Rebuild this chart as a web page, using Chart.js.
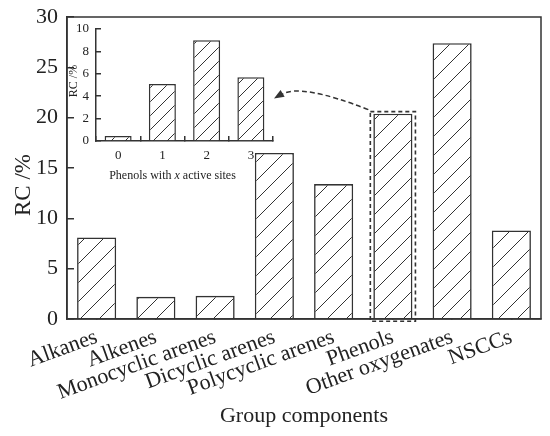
<!DOCTYPE html>
<html lang="en">
<head>
  <meta charset="UTF-8">
  <title>RC of group components</title>
  <script src="https://cdn.jsdelivr.net/npm/chart.js"></script>
  <style>
    html, body { margin: 0; padding: 0; background: #fff; }
    .wrap { position: relative; width: 550px; height: 436px; }
    .wrap canvas { position: absolute; left: 0; top: 0; }
    #insetChart { pointer-events: none; }
  </style>
</head>
<body>
  <div class="wrap">
    <canvas id="mainChart" width="550" height="436"></canvas>
    <canvas id="insetChart" width="550" height="436"></canvas>
  </div>

  <script>
    // main chart data
    const groups = ['Alkanes', 'Alkenes', 'Monocyclic arenes', 'Dicyclic arenes',
                    'Polycyclic arenes', 'Phenols', 'Other oxygenates', 'NSCCs'];
    const rcValues = [8.1, 2.2, 2.3, 16.5, 13.4, 20.4, 27.4, 8.8];
    const rcTicks = [0, 5, 10, 15, 20, 25, 30];

    // inset data
    const sites = ['0', '1', '2', '3'];
    const phenolRc = [0.45, 5.1, 9.0, 5.7];
    const siteTicks = [0, 2, 4, 6, 8, 10];

    const INK = '#333';
    const TEXT = '#222';
    const SERIF = '"Liberation Serif", "DejaVu Serif", serif';

    // diagonal hatch fill
    function hatch(size, lw) {
      const c = document.createElement('canvas');
      c.width = c.height = size;
      const g = c.getContext('2d');
      g.fillStyle = '#fff';
      g.fillRect(0, 0, size, size);
      g.strokeStyle = INK;
      g.lineWidth = lw;
      g.beginPath();
      g.moveTo(-1, size + 1); g.lineTo(size + 1, -1);
      g.moveTo(-2, 2); g.lineTo(2, -2);
      g.moveTo(size - 2, size + 2); g.lineTo(size + 2, size - 2);
      g.stroke();
      return g.createPattern(c, 'repeat');
    }

    // fixed axis box, no extra label padding pushed into the layout
    function fixWidth(w) {
      return s => { s.width = w; s.paddingTop = 0; s.paddingBottom = 0; };
    }

    // ---------- inset ----------
    const insetText = {
      id: 'insetText',
      afterDraw(chart) {
        const ctx = chart.ctx;
        const a = chart.chartArea;
        ctx.save();
        ctx.fillStyle = TEXT;
        ctx.textBaseline = 'middle';
        // y title
        ctx.font = '12px ' + SERIF;
        ctx.textAlign = 'center';
        ctx.translate(a.left - 22, (a.top + a.bottom) / 2 - 4);
        ctx.rotate(-Math.PI / 2);
        ctx.fillText('RC /%', 0, 0);
        ctx.restore();

        // x title with italic x
        ctx.save();
        ctx.fillStyle = TEXT;
        ctx.textBaseline = 'middle';
        const parts = [['Phenols with ', ''], ['x', 'italic '], [' active sites', '']];
        let total = 0;
        parts.forEach(p => { ctx.font = p[1] + '12px ' + SERIF; total += ctx.measureText(p[0]).width; });
        let x = (a.left + a.right) / 2 - 12 - total / 2;
        const y = a.bottom + 35;
        ctx.textAlign = 'left';
        parts.forEach(p => {
          ctx.font = p[1] + '12px ' + SERIF;
          ctx.fillText(p[0], x, y);
          x += ctx.measureText(p[0]).width;
        });
        ctx.restore();
      }
    };

    const insetChart = new Chart(document.getElementById('insetChart'), {
      type: 'bar',
      data: {
        labels: sites,
        datasets: [{
          data: phenolRc,
          backgroundColor: hatch(14, 1),
          borderColor: INK,
          borderWidth: 1.5,
          categoryPercentage: 0.61,
          barPercentage: 1
        }]
      },
      options: {
        responsive: false,
        animation: false,
        layout: { padding: { top: 29, right: 277, left: 0, bottom: 0 } },
        plugins: { legend: { display: false }, tooltip: { enabled: false } },
        scales: {
          x: {
            grid: { drawOnChartArea: false, tickLength: -5, color: INK, lineWidth: 1.5 },
            border: { color: INK, width: 1.5 },
            ticks: { padding: 12, color: TEXT, font: { family: SERIF, size: 13 } },
            afterFit: s => { s.height = 295; }
          },
          y: {
            min: 0, max: 10,
            afterBuildTicks: s => { s.ticks = siteTicks.map(v => ({ value: v })); },
            grid: { drawOnChartArea: false, tickLength: -5, color: INK, lineWidth: 1.5 },
            border: { color: INK, width: 1.5 },
            ticks: { padding: 12, color: TEXT, font: { family: SERIF, size: 13 } },
            afterFit: fixWidth(96)
          }
        }
      },
      plugins: [insetText]
    });

    // ---------- main ----------
    const mainDecor = {
      id: 'mainDecor',
      afterDraw(chart) {
        const ctx = chart.ctx;
        const a = chart.chartArea;
        ctx.save();
        // frame
        ctx.strokeStyle = INK;
        ctx.lineWidth = 1.5;
        ctx.strokeRect(a.left, a.top, a.right - a.left, a.bottom - a.top);

        // dashed box round the phenols bar
        const bar = chart.getDatasetMeta(0).data[groups.indexOf('Phenols')];
        const bl = bar.x - bar.width / 2 - 3;
        const br = bar.x + bar.width / 2 + 3;
        const bt = bar.y - 2;
        const bb = bar.base + 3;
        ctx.setLineDash([4, 3]);
        ctx.lineWidth = 1.6;
        ctx.strokeRect(bl, bt, br - bl, bb - bt);

        // curved dashed arrow to the inset
        const ia = insetChart.chartArea;
        const ex = ia.right + 1;
        const ey = insetChart.scales.y.getPixelForValue(3.8);
        const sx = bl - 2, sy = bt - 2;
        const cx = 300, cy = 83;
        ctx.setLineDash([5, 3]);
        ctx.lineWidth = 1.5;
        ctx.beginPath();
        ctx.moveTo(sx, sy);
        ctx.quadraticCurveTo(cx, cy, ex + 8, ey - 4);
        ctx.stroke();
        ctx.setLineDash([]);
        const ang = Math.atan2(ey - cy, ex - cx);
        ctx.fillStyle = INK;
        ctx.beginPath();
        ctx.moveTo(ex, ey);
        ctx.lineTo(ex - 10 * Math.cos(ang) - 4 * Math.sin(ang), ey - 10 * Math.sin(ang) + 4 * Math.cos(ang));
        ctx.lineTo(ex - 10 * Math.cos(ang) + 4 * Math.sin(ang), ey - 10 * Math.sin(ang) - 4 * Math.cos(ang));
        ctx.closePath();
        ctx.fill();

        // axis titles
        ctx.fillStyle = TEXT;
        ctx.textBaseline = 'middle';
        ctx.textAlign = 'center';
        ctx.font = '22px ' + SERIF;
        ctx.fillText('Group components', (a.left + a.right) / 2, 416);
        ctx.translate(24, (a.top + a.bottom) / 2 + 17);
        ctx.rotate(-Math.PI / 2);
        ctx.font = '23px ' + SERIF;
        ctx.fillText('RC /%', 0, 0);
        ctx.restore();
      }
    };

    new Chart(document.getElementById('mainChart'), {
      type: 'bar',
      data: {
        labels: groups,
        datasets: [{
          data: rcValues,
          backgroundColor: hatch(19, 1),
          borderColor: INK,
          borderWidth: 1.6,
          categoryPercentage: 0.66,
          barPercentage: 1
        }]
      },
      options: {
        responsive: false,
        animation: false,
        layout: { padding: { top: 17, right: 9, left: 0, bottom: 0 } },
        plugins: { legend: { display: false }, tooltip: { enabled: false } },
        scales: {
          x: {
            offset: true,
            grid: { offset: false, drawOnChartArea: false, tickLength: -7, color: INK, lineWidth: 1.5 },
            border: { color: INK, width: 1.5 },
            ticks: { autoSkip: false, minRotation: 20, maxRotation: 20, padding: 6, color: TEXT,
                     font: { family: SERIF, size: 22, lineHeight: 1.8 } },
            afterFit: s => { s.height = 117; }
          },
          y: {
            min: 0, max: 30,
            afterBuildTicks: s => { s.ticks = rcTicks.map(v => ({ value: v })); },
            grid: { drawOnChartArea: false, tickLength: -7, color: INK, lineWidth: 1.5 },
            border: { color: INK, width: 1.5 },
            ticks: { padding: 16, color: TEXT, font: { family: SERIF, size: 22 } },
            afterFit: fixWidth(67)
          }
        }
      },
      plugins: [mainDecor]
    });
  </script>
</body>
</html>
